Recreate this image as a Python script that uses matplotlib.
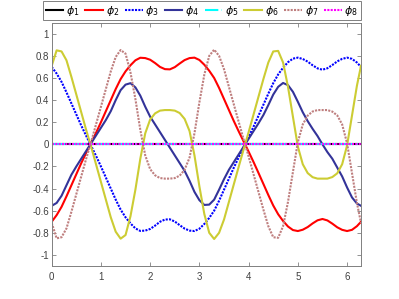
import numpy as np
import matplotlib
matplotlib.use('Agg')
import matplotlib.pyplot as plt

plt.rcParams['font.family'] = ['Liberation Sans', 'DejaVu Sans']
plt.rcParams['axes.unicode_minus'] = False

# sample positions, 0 .. 2*pi
x = np.append(np.round(np.arange(0, 6.25, 0.1), 1), 2 * np.pi)

# values
phi1 = np.zeros(len(x))
phi2 = [-0.70, -0.64, -0.565, -0.47, -0.37, -0.27, -0.17, -0.077, 0.013, 0.104,
        0.20, 0.30, 0.40, 0.50, 0.59, 0.66, 0.715, 0.76, 0.783, 0.78,
        0.765, 0.735, 0.70, 0.68, 0.678, 0.698, 0.731, 0.762, 0.78, 0.784,
        0.763, 0.72,
        0.665, 0.60, 0.51, 0.41, 0.31, 0.21, 0.116, 0.025, -0.066, -0.16,
        -0.258, -0.358, -0.458, -0.553, -0.632, -0.693, -0.743, -0.775, -0.784, -0.772,
        -0.748, -0.715, -0.687, -0.675, -0.688, -0.717, -0.75, -0.773, -0.784, -0.773,
        -0.74, -0.70]
phi3 = [0.70, 0.64, 0.565, 0.47, 0.37, 0.27, 0.17, 0.077, -0.013, -0.104,
        -0.20, -0.30, -0.40, -0.50, -0.59, -0.66, -0.715, -0.76, -0.783, -0.78,
        -0.765, -0.735, -0.70, -0.68, -0.678, -0.698, -0.731, -0.762, -0.78, -0.784,
        -0.763, -0.72,
        -0.665, -0.60, -0.51, -0.41, -0.31, -0.21, -0.116, -0.025, 0.066, 0.16,
        0.258, 0.358, 0.458, 0.553, 0.632, 0.693, 0.743, 0.775, 0.784, 0.772,
        0.748, 0.715, 0.687, 0.675, 0.688, 0.717, 0.75, 0.773, 0.784, 0.773,
        0.74, 0.70]
phi4 = [-0.556, -0.53, -0.465, -0.37, -0.275, -0.20, -0.13, -0.06, 0.01, 0.08,
        0.15, 0.22, 0.30, 0.40, 0.49, 0.54, 0.553, 0.515, 0.44, 0.34,
        0.25, 0.18, 0.11, 0.04, -0.03, -0.10, -0.17, -0.24, -0.33, -0.43,
        -0.505, -0.548,
        -0.545, -0.50, -0.41, -0.315, -0.23, -0.16, -0.09, -0.02, 0.05, 0.12,
        0.19, 0.265, 0.355, 0.45, 0.52, 0.555, 0.535, 0.475, 0.385, 0.29,
        0.21, 0.14, 0.075, 0.0, -0.07, -0.13, -0.21, -0.29, -0.39, -0.48,
        -0.535, -0.556]
phi5 = np.zeros(len(x))
phi6 = [0.71, 0.85, 0.84, 0.76, 0.61, 0.45, 0.29, 0.13, -0.02, -0.18,
        -0.34, -0.50, -0.66, -0.79, -0.853, -0.82, -0.65, -0.41, -0.13, 0.10,
        0.225, 0.28, 0.305, 0.31, 0.31, 0.305, 0.283, 0.23, 0.12, -0.10,
        -0.38, -0.63,
        -0.80, -0.856, -0.80, -0.68, -0.52, -0.36, -0.20, -0.043, 0.11, 0.27,
        0.43, 0.59, 0.74, 0.84, 0.845, 0.74, 0.52, 0.25, -0.02, -0.18,
        -0.26, -0.297, -0.31, -0.31, -0.31, -0.296, -0.262, -0.18, -0.01, 0.26,
        0.53, 0.71]
phi7 = [-0.71, -0.85, -0.84, -0.76, -0.61, -0.45, -0.29, -0.13, 0.02, 0.18,
        0.34, 0.50, 0.66, 0.79, 0.853, 0.82, 0.65, 0.41, 0.13, -0.10,
        -0.225, -0.28, -0.305, -0.31, -0.31, -0.305, -0.283, -0.23, -0.12, 0.10,
        0.38, 0.63,
        0.80, 0.856, 0.80, 0.68, 0.52, 0.36, 0.20, 0.043, -0.11, -0.27,
        -0.43, -0.59, -0.74, -0.84, -0.845, -0.74, -0.52, -0.25, 0.02, 0.18,
        0.26, 0.297, 0.31, 0.31, 0.31, 0.296, 0.262, 0.18, 0.01, -0.26,
        -0.53, -0.71]
phi8 = np.zeros(len(x))

series = [phi1, phi2, phi3, phi4, phi5, phi6, phi7, phi8]
labels = [r'$\phi_%d$' % i for i in range(1, 9)]
colors = ['k', '#ff0000', '#0000ff', '#333399', '#00ffff', '#cccc33', '#bf7f7f', '#ff00ff']
dots = (0, (1, 0.6))
styles = ['-', '-', dots, '-', '-.', '-', dots, dots]

fig = plt.figure(figsize=(3.99, 2.99), dpi=100)
ax = fig.add_axes([0.1296, 0.1104, 0.7752, 0.8137])

for y, lab, c, ls in zip(series, labels, colors, styles):
    ax.plot(x, y, color=c, linestyle=ls, linewidth=1.5, label=lab)

ax.set_xlim(0, 2 * np.pi)
ax.set_ylim(-1.1, 1.1)
ax.set_xticks(range(0, 7))
ax.set_xticklabels([str(i) for i in range(0, 7)])
yt = [-1, -0.8, -0.6, -0.4, -0.2, 0, 0.2, 0.4, 0.6, 0.8, 1]
ax.set_yticks(yt)
ax.set_yticklabels(['%g' % v for v in yt])

for s in ax.spines.values():
    s.set_color('0.5')
    s.set_linewidth(0.7)
ax.tick_params(direction='in', top=True, right=True, length=3, width=0.6,
               color='0.5', labelcolor='0.25', labelsize=7)
ax.tick_params(axis='x', pad=4.5)
ax.tick_params(axis='y', pad=2)

leg = fig.legend(loc='upper center', bbox_to_anchor=(0.506, 0.997), ncol=8,
                 fontsize=8, handlelength=1.6, handletextpad=0.25,
                 columnspacing=0.5, borderpad=0.25, fancybox=False,
                 framealpha=1, edgecolor='0.5', borderaxespad=0)
leg.get_frame().set_linewidth(0.7)

fig.savefig('out.png', dpi=100)
